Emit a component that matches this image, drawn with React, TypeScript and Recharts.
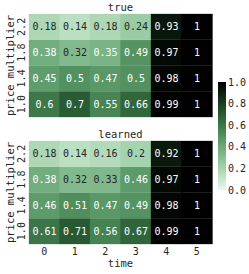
import { Bar, BarChart, Cell, LabelList, XAxis, YAxis } from "recharts";

const TIMES = ["0", "1", "2", "3", "4", "5"];
const PRICES = ["1.0", "1.4", "1.8", "2.2"];
const COLORBAR_TICKS = [0, 0.2, 0.4, 0.6, 0.8, 1];

// rows go bottom (1.0) to top (2.2), columns are time steps
const TRUE_VALUES = [
  [0.6, 0.7, 0.55, 0.66, 0.99, 1],
  [0.45, 0.5, 0.47, 0.5, 0.98, 1],
  [0.38, 0.32, 0.35, 0.49, 0.97, 1],
  [0.18, 0.14, 0.18, 0.24, 0.93, 1],
];

const LEARNED_VALUES = [
  [0.61, 0.71, 0.56, 0.67, 0.99, 1],
  [0.46, 0.51, 0.47, 0.49, 0.98, 1],
  [0.38, 0.32, 0.33, 0.46, 0.97, 1],
  [0.18, 0.14, 0.16, 0.2, 0.92, 1],
];

const FONT = "'DejaVu Sans Mono', monospace";
const TEXT = "#262626";

// seaborn cubehelix_palette(start=2, rot=0, dark=0, light=.95)
function cubehelix(v: number) {
  const x = 0.95 * (1 - v);
  const amp = (0.8 * x * (1 - x)) / 2;
  const phi = 2 * Math.PI * (2 / 3);
  const c = Math.cos(phi);
  const s = Math.sin(phi);
  const ch = [
    x + amp * (-0.14861 * c + 1.78277 * s),
    x + amp * (-0.29227 * c - 0.90649 * s),
    x + amp * (1.97294 * c),
  ].map((k) => Math.min(1, Math.max(0, k)));
  return ch;
}

function toHex(ch: number[]) {
  return "#" + ch.map((k) => Math.round(k * 255).toString(16).padStart(2, "0")).join("");
}

function cellColor(v: number) {
  return toHex(cubehelix(v));
}

function textColor(v: number) {
  const lin = cubehelix(v).map((k) => (k <= 0.03928 ? k / 12.92 : Math.pow((k + 0.055) / 1.055, 2.4)));
  const lum = 0.2126 * lin[0] + 0.7152 * lin[1] + 0.0722 * lin[2];
  return lum > 0.408 ? TEXT : "#ffffff";
}

function buildRows(values: number[][]) {
  return TIMES.map((t, i) => {
    const row: Record<string, string | number> = { time: t };
    PRICES.forEach((_, j) => {
      row[`p${j}`] = 1;
      row[`v${j}`] = values[j][i];
    });
    return row;
  });
}

function CellLabel(props: any) {
  const { x, y, width, height, value } = props;
  return (
    <text
      x={x + width / 2}
      y={y + height / 2}
      dy="0.36em"
      textAnchor="middle"
      fontFamily={FONT}
      fontSize={10}
      fill={textColor(value)}
    >
      {String(value)}
    </text>
  );
}

function PriceTick(props: any) {
  const { x, y, payload } = props;
  const tx = x - 7.5;
  return (
    <text
      x={tx}
      y={y}
      dy="0.36em"
      transform={`rotate(-90, ${tx}, ${y})`}
      textAnchor="middle"
      fontFamily={FONT}
      fontSize={10}
      fill={TEXT}
    >
      {PRICES[Math.floor(payload.value)]}
    </text>
  );
}

function Heatmap({
  title,
  values,
  showTime,
}: {
  title: string;
  values: number[][];
  showTime: boolean;
}) {
  const data = buildRows(values);
  return (
    <BarChart
      width={249}
      height={showTime ? 147 : 127}
      data={data}
      margin={{ top: 0, right: 37, bottom: showTime ? 0 : 10, left: 0 }}
      barCategoryGap={0}
      barGap={0}
    >
      <XAxis
        dataKey="time"
        hide={!showTime}
        height={30}
        tickLine={false}
        axisLine={false}
        tickSize={0}
        tickMargin={4}
        tick={{ fontFamily: FONT, fontSize: 10, fill: TEXT }}
        label={{
          value: "time",
          position: "insideBottom",
          offset: 7.5,
          style: { fontFamily: FONT, fontSize: 10.5, fill: TEXT },
        }}
      />
      <XAxis
        xAxisId="title"
        dataKey="time"
        orientation="top"
        height={14}
        tick={false}
        tickLine={false}
        axisLine={false}
        label={{
          value: title,
          position: "insideTop",
          offset: 4,
          style: { fontFamily: FONT, fontSize: 10.5, fill: TEXT },
        }}
      />
      <YAxis
        type="number"
        domain={[0, 4]}
        ticks={[0.5, 1.5, 2.5, 3.5]}
        width={29}
        tickLine={false}
        axisLine={false}
        tickSize={0}
        tickMargin={0}
        tick={<PriceTick />}
        label={{
          value: "price multiplier",
          angle: -90,
          position: "insideLeft",
          offset: 10.5,
          style: { textAnchor: "middle", fontFamily: FONT, fontSize: 10.5, fill: TEXT },
        }}
      />
      {PRICES.map((p, j) => (
        <Bar key={p} dataKey={`p${j}`} stackId="cells" isAnimationActive={false}>
          {data.map((_, i) => (
            <Cell key={i} fill={cellColor(values[j][i])} stroke={cellColor(values[j][i])} strokeWidth={0.3} />
          ))}
          <LabelList dataKey={`v${j}`} content={<CellLabel />} />
        </Bar>
      ))}
    </BarChart>
  );
}

function Colorbar() {
  const stops = Array.from({ length: 21 }, (_, i) => i / 20);
  return (
    <BarChart
      width={39}
      height={130}
      data={[{ name: "cbar", v: 1 }]}
      margin={{ top: 12, right: 0, bottom: 10, left: 8 }}
      barCategoryGap={0}
    >
      <defs>
        <linearGradient id="cbar-grad" x1="0" y1="1" x2="0" y2="0">
          {stops.map((s) => (
            <stop key={s} offset={s} stopColor={cellColor(s)} />
          ))}
        </linearGradient>
      </defs>
      <XAxis dataKey="name" hide />
      <YAxis
        orientation="right"
        type="number"
        domain={[0, 1]}
        ticks={COLORBAR_TICKS}
        width={23}
        tickLine={false}
        axisLine={false}
        tickSize={0}
        tickMargin={2}
        tickFormatter={(v: number) => v.toFixed(1)}
        tick={{ fontFamily: FONT, fontSize: 10, fill: TEXT }}
        interval={0}
      />
      <Bar dataKey="v" fill="url(#cbar-grad)" isAnimationActive={false} />
    </BarChart>
  );
}

export default function App() {
  return (
    <div style={{ position: "absolute", left: 0, top: 0, width: 249, height: 274, background: "#fff" }}>
      <div style={{ position: "absolute", left: 0, top: 0 }}>
        <Heatmap title="true" values={TRUE_VALUES} showTime={false} />
      </div>
      <div style={{ position: "absolute", left: 0, top: 127 }}>
        <Heatmap title="learned" values={LEARNED_VALUES} showTime={true} />
      </div>
      <div style={{ position: "absolute", left: 210, top: 70 }}>
        <Colorbar />
      </div>
    </div>
  );
}
